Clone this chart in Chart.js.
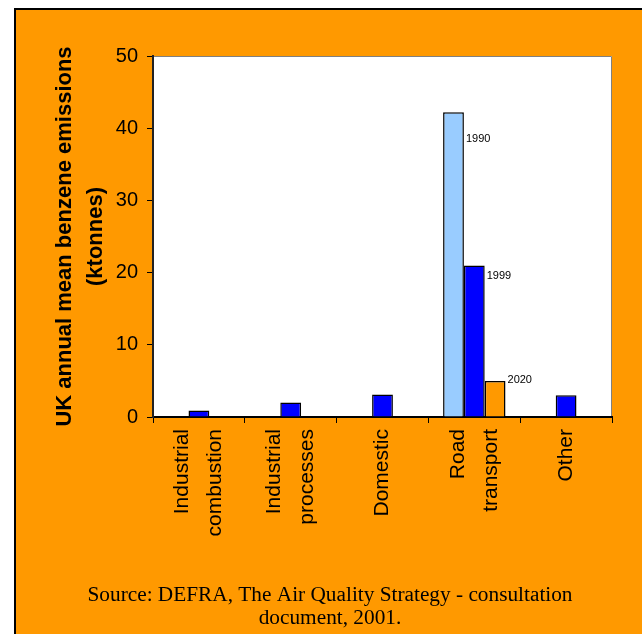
<!DOCTYPE html>
<html>
<head>
<meta charset="utf-8">
<script src="https://cdn.jsdelivr.net/npm/chart.js@4.4.1/dist/chart.umd.min.js"></script>
<style>
  html, body { margin: 0; padding: 0; background: #fff; }
  #benzene-chart { display: block; }
</style>
</head>
<body>
<canvas id="benzene-chart" width="642" height="634"></canvas>
<script>
  // values (ktonnes)
  const categories = [
    ['Industrial', 'combustion'],
    ['Industrial', 'processes'],
    ['Domestic'],
    ['Road', 'transport'],
    ['Other']
  ];
  const seriesNames = ['1990', '1999', '2020'];
  const emissions1990 = [null, null, null, 42.2, null];
  const emissions1999 = [0.9, 2.0, 3.1, 21.0, 3.0];
  const emissions2020 = [null, null, null, 5.0, null];
  const yTicks = [0, 10, 20, 30, 40, 50];
  const sourceNote = ['Source: DEFRA, The Air Quality Strategy - consultation', 'document, 2001.'];

  const ORANGE = '#FF9900';

  // lines are laid out on a half-line grid so one- and two-line labels both centre on the category
  function tickLines(lines) {
    return lines.length === 1 ? ['', lines[0], ''] : [lines[0], '', lines[1]];
  }

  const backgroundPlugin = {
    id: 'pageBackground',
    beforeDraw: function (chart) {
      const ctx = chart.ctx;
      const area = chart.chartArea;
      ctx.save();
      ctx.fillStyle = '#fff';
      ctx.fillRect(0, 0, chart.width, chart.height);
      ctx.fillStyle = ORANGE;
      ctx.fillRect(15, 9, chart.width - 15, chart.height - 9);
      ctx.strokeStyle = '#000';
      ctx.lineWidth = 2;
      ctx.beginPath();
      ctx.moveTo(15, chart.height);
      ctx.lineTo(15, 9);
      ctx.lineTo(chart.width, 9);
      ctx.stroke();
      ctx.fillStyle = '#fff';
      ctx.fillRect(area.left, area.top, area.right - area.left, area.bottom - area.top);
      ctx.strokeStyle = '#808080';
      ctx.lineWidth = 1;
      ctx.beginPath();
      ctx.moveTo(area.left, area.top + 0.5);
      ctx.lineTo(area.right - 0.5, area.top + 0.5);
      ctx.lineTo(area.right - 0.5, area.bottom);
      ctx.stroke();
      ctx.restore();
    }
  };

  // small year captions beside the road transport bars
  const yearLabelPlugin = {
    id: 'yearLabels',
    afterDatasetsDraw: function (chart) {
      const ctx = chart.ctx;
      const idx = 3;
      const drop = [27, 11, -1];
      ctx.save();
      ctx.font = '11px "Liberation Sans", Arial, sans-serif';
      ctx.fillStyle = '#000';
      ctx.textAlign = 'left';
      ctx.textBaseline = 'middle';
      chart.data.datasets.forEach(function (ds, i) {
        const bar = chart.getDatasetMeta(i).data[idx];
        if (!bar || ds.data[idx] == null) return;
        const p = bar.getProps(['x', 'y', 'width'], true);
        ctx.fillText(ds.label, p.x + p.width / 2 + 2, p.y + drop[i]);
      });
      ctx.restore();
    }
  };

  const ctx = document.getElementById('benzene-chart');

  new Chart(ctx, {
    type: 'bar',
    data: {
      labels: categories,
      datasets: [{
        label: seriesNames[0],
        data: emissions1990,
        backgroundColor: '#99CCFF',
        borderColor: '#000',
        borderWidth: 1.5
      },
      {
        label: seriesNames[1],
        data: emissions1999,
        backgroundColor: '#0000FF',
        borderColor: '#000',
        borderWidth: 1.5
      },
      {
        label: seriesNames[2],
        data: emissions2020,
        backgroundColor: ORANGE,
        borderColor: '#000',
        borderWidth: 1.5
      }]
    },
    options: {
      responsive: false,
      animation: false,
      categoryPercentage: 0.68,
      barPercentage: 1,
      layout: {
        padding: { top: 56, right: 30, left: 48, bottom: 0 }
      },
      scales: {
        x: {
          offset: true,
          grid: {
            display: true,
            offset: true,
            drawOnChartArea: false,
            tickLength: 6,
            color: '#000'
          },
          border: { display: true, color: '#000', width: 2 },
          ticks: {
            autoSkip: false,
            minRotation: 90,
            maxRotation: 90,
            padding: 6,
            labelOffset: -16.5,
            color: '#000',
            font: { family: '"Liberation Sans", Arial, sans-serif', size: 21, lineHeight: '16.5px' },
            callback: function (value, index) {
              return tickLines(categories[index]);
            }
          },
          afterFit: function (scale) { scale.height = 166.5; }
        },
        y: {
          min: 0,
          max: 50,
          afterBuildTicks: function (scale) {
            scale.ticks = yTicks.map(function (v) { return { value: v }; });
          },
          grid: {
            display: true,
            drawOnChartArea: false,
            tickLength: 6,
            color: '#000'
          },
          border: { display: true, color: '#222', width: 2 },
          ticks: {
            padding: 9,
            color: '#000',
            font: { family: '"Liberation Sans", Arial, sans-serif', size: 20 }
          },
          title: {
            display: true,
            text: ['UK annual mean benzene emissions', '(ktonnes)'],
            color: '#000',
            padding: { top: 1.5, bottom: 0 },
            font: { family: '"Liberation Sans", Arial, sans-serif', size: 22, weight: 'bold', lineHeight: '31px' }
          },
          afterFit: function (scale) { scale.width = 105; }
        }
      },
      plugins: {
        legend: { display: false },
        tooltip: { enabled: false },
        title: {
          display: true,
          position: 'bottom',
          text: sourceNote,
          color: '#000',
          padding: { top: 0, bottom: 4.5 },
          font: { family: '"Liberation Serif", "Times New Roman", serif', size: 21.3, weight: 'normal', lineHeight: '23px' }
        }
      }
    },
    plugins: [backgroundPlugin, yearLabelPlugin]
  });
</script>
</body>
</html>
